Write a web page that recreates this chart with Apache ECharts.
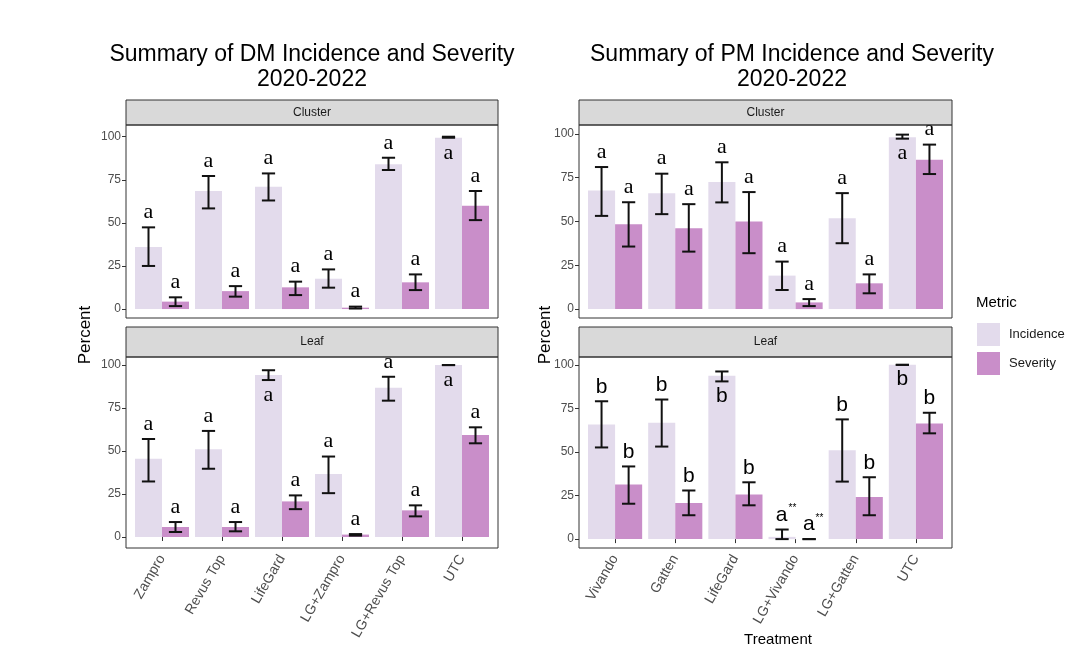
<!DOCTYPE html>
<html>
<head>
<meta charset="utf-8">
<script src="https://cdn.jsdelivr.net/npm/echarts@6/dist/echarts.min.js"></script>
<style>
  html, body { margin: 0; background: #fff; }
  #chart { width: 1074px; height: 653px; }
</style>
</head>
<body>
<div id="chart"></div>
<script>
// treatments
const dmTreatments = ['Zampro', 'Revus Top', 'LifeGard', 'LG+Zampro', 'LG+Revus Top', 'UTC'];
const pmTreatments = ['Vivando', 'Gatten', 'LifeGard', 'LG+Vivando', 'LG+Gatten', 'UTC'];

// DM - cluster
const dmClusterInc = [36, 68.5, 71, 17.6, 84, 99.4];
const dmClusterIncErr = [[25, 47.4], [58.4, 77.2], [63, 78.7], [12.4, 23], [80.7, 87.8], [99.4, 100]];
const dmClusterSev = [4.3, 10.4, 12.6, 0.8, 15.5, 60];
const dmClusterSevErr = [[1.7, 6.8], [7.2, 13.3], [8.1, 15.9], [0.3, 1.4], [11, 20.1], [51.6, 68.5]];
const dmClusterIncLetters = ['a', 'a', 'a', 'a', 'a', 'a'];
const dmClusterSevLetters = ['a', 'a', 'a', 'a', 'a', 'a'];
const dmClusterBelow = ['UTC'];

// DM - leaf
const dmLeafInc = [45.5, 51, 94.2, 36.6, 86.8, 100];
const dmLeafIncErr = [[32.3, 57], [39.7, 61.7], [91.3, 97], [25.5, 46.8], [79.3, 93.2], [100, 100]];
const dmLeafSev = [5.8, 5.8, 20.7, 1.4, 15.5, 59.4];
const dmLeafSevErr = [[2.9, 8.7], [3.3, 8.7], [16.2, 24.2], [0.8, 1.7], [12, 18.4], [54.5, 63.8]];
const dmLeafIncLetters = ['a', 'a', 'a', 'a', 'a', 'a'];
const dmLeafSevLetters = ['a', 'a', 'a', 'a', 'a', 'a'];
const dmLeafBelow = ['LifeGard', 'UTC'];

// PM - cluster
const pmClusterInc = [67.7, 66.2, 72.5, 19.1, 51.9, 98.1];
const pmClusterIncErr = [[53.2, 81.1], [54.2, 77.3], [60.9, 83.8], [10.9, 27.1], [37.6, 66.2], [97.3, 99.6]];
const pmClusterSev = [48.5, 46.2, 50, 3.8, 14.7, 85.3];
const pmClusterSevErr = [[35.7, 61], [32.8, 59.9], [31.9, 66.8], [1.7, 5.7], [9, 19.8], [77.1, 93.9]];
const pmClusterIncLetters = ['a', 'a', 'a', 'a', 'a', 'a'];
const pmClusterSevLetters = ['a', 'a', 'a', 'a', 'a', 'a'];
const pmClusterBelow = ['UTC'];

// PM - leaf
const pmLeafInc = [65.8, 66.8, 93.7, 1.3, 51, 100];
const pmLeafIncErr = [[52.6, 79.1], [53.1, 80.1], [90.5, 96.2], [0, 5.5], [33, 68.7], [100, 100]];
const pmLeafSev = [31.3, 20.7, 25.6, 0, 24.1, 66.4];
const pmLeafSevErr = [[20.3, 41.7], [13.7, 27.9], [19.4, 32.6], [0, 0], [13.7, 35.5], [60.7, 72.5]];
const pmLeafIncLetters = ['b', 'b', 'b', 'a**', 'b', 'b'];
const pmLeafSevLetters = ['b', 'b', 'b', 'a**', 'b', 'b'];
const pmLeafBelow = ['LifeGard', 'UTC'];

const yTicks = [0, 25, 50, 75, 100];

const incColor = '#e3dbec';
const sevColor = '#c98ec9';
const serif = { font: '22px "Liberation Serif", "Times New Roman", serif', size: 22, family: '"Liberation Serif", serif' };
const sans = { font: '21px "Liberation Sans", Arial, sans-serif', size: 21, family: '"Liberation Sans", Arial, sans-serif' };

// panel layout: box = facet border, grid = plotting range (ggplot discrete expansion)
const panels = [
  { cats: dmTreatments, inc: dmClusterInc, incErr: dmClusterIncErr, sev: dmClusterSev, sevErr: dmClusterSevErr,
    incL: dmClusterIncLetters, sevL: dmClusterSevLetters, below: dmClusterBelow, font: serif,
    box: [126, 125, 372, 193], strip: [126, 100, 372, 25], strip_text: 'Cluster', grid: [132, 125, 360, 193], y: [-5.2, 106.8], bottom: false },
  { cats: dmTreatments, inc: dmLeafInc, incErr: dmLeafIncErr, sev: dmLeafSev, sevErr: dmLeafSevErr,
    incL: dmLeafIncLetters, sevL: dmLeafSevLetters, below: dmLeafBelow, font: serif,
    box: [126, 357, 372, 191], strip: [126, 327, 372, 30], strip_text: 'Leaf', grid: [132, 357, 360, 191], y: [-6.4, 104.7], bottom: true },
  { cats: pmTreatments, inc: pmClusterInc, incErr: pmClusterIncErr, sev: pmClusterSev, sevErr: pmClusterSevErr,
    incL: pmClusterIncLetters, sevL: pmClusterSevLetters, below: pmClusterBelow, font: serif,
    box: [579, 125, 373, 193], strip: [579, 100, 373, 25], strip_text: 'Cluster', grid: [585, 125, 361, 193], y: [-5.1, 105.1], bottom: false },
  { cats: pmTreatments, inc: pmLeafInc, incErr: pmLeafIncErr, sev: pmLeafSev, sevErr: pmLeafSevErr,
    incL: pmLeafIncLetters, sevL: pmLeafSevLetters, below: pmLeafBelow, font: sans,
    box: [579, 357, 373, 191], strip: [579, 327, 373, 30], strip_text: 'Leaf', grid: [585, 357, 361, 191], y: [-5.1, 104.5], bottom: true }
];

const chart = echarts.init(document.getElementById('chart'));

function errRenderer(items, f) {
  return function (params, api) {
    const it = items[params.dataIndex];
    const band = api.size([1, 0])[0];
    const cx = api.coord([api.value(0), 0])[0] + (api.value(3) ? 1 : -1) * band * 0.225;
    const yLo = api.coord([api.value(0), api.value(1)])[1];
    const yHi = api.coord([api.value(0), api.value(2)])[1];
    const cw = band * 0.11;
    const st = { stroke: '#111', lineWidth: 2 };
    const children = [
      { type: 'line', shape: { x1: cx, y1: yLo, x2: cx, y2: yHi }, style: st },
      { type: 'line', shape: { x1: cx - cw, y1: yHi, x2: cx + cw, y2: yHi }, style: st },
      { type: 'line', shape: { x1: cx - cw, y1: yLo, x2: cx + cw, y2: yLo }, style: st }
    ];
    // "a**" -> letter with small raised marks
    const star = it.letter.indexOf('**') > 0;
    const txt = star ? '{n|' + it.letter.replace('**', '') + '}{s|**}' : '{n|' + it.letter + '}';
    children.push({
      type: 'text',
      x: cx + (star ? 4 : 0),
      y: it.below ? yLo + 3 : yHi - 3,
      style: {
        text: txt, fill: '#000', align: 'center', verticalAlign: it.below ? 'top' : 'bottom',
        rich: {
          n: { fontSize: f.size, fontFamily: f.family, fill: '#000', lineHeight: f.size + 2 },
          s: { fontSize: 10, fontFamily: f.family, fill: '#000', verticalAlign: 'top', lineHeight: f.size + 2, padding: [0, 0, 8, 1] }
        }
      }
    });
    return { type: 'group', children: children };
  };
}

const grids = [], xAxes = [], yAxes = [], series = [], graphics = [];

panels.forEach((p, i) => {
  grids.push({ left: p.grid[0], top: p.grid[1], width: p.grid[2], height: p.grid[3], show: false });
  xAxes.push({
    type: 'category', gridIndex: i, data: p.cats,
    axisLine: { show: false },
    axisTick: { show: p.bottom, alignWithLabel: true, length: 4, lineStyle: { color: '#333' } },
    axisLabel: { show: p.bottom, rotate: 60, fontSize: 14, color: '#4d4d4d', margin: 8, padding: [16, 0, 0, 0], fontFamily: 'Liberation Sans, Arial, sans-serif' }
  });
  yAxes.push({
    type: 'value', gridIndex: i, min: p.y[0], max: p.y[1], offset: p.grid[0] - p.box[0],
    splitLine: { show: false },
    axisLine: { show: false },
    axisTick: { show: true, length: 4, customValues: yTicks, lineStyle: { color: '#333' } },
    axisLabel: { customValues: yTicks, fontSize: 12, color: '#4d4d4d', margin: 5, fontFamily: 'Liberation Sans, Arial, sans-serif' }
  });
  series.push({
    type: 'bar', name: 'Incidence', xAxisIndex: i, yAxisIndex: i, data: p.inc,
    barWidth: '45%', barGap: '0%', itemStyle: { color: incColor }
  });
  series.push({
    type: 'bar', name: 'Severity', xAxisIndex: i, yAxisIndex: i, data: p.sev,
    barWidth: '45%', barGap: '0%', itemStyle: { color: sevColor }
  });
  const items = [];
  p.inc.forEach((v, k) => items.push({ value: [k, p.incErr[k][0], p.incErr[k][1], 0], letter: p.incL[k], below: p.below.includes(p.cats[k]) }));
  p.sev.forEach((v, k) => items.push({ value: [k, p.sevErr[k][0], p.sevErr[k][1], 1], letter: p.sevL[k], below: false }));
  series.push({
    type: 'custom', name: 'errbar', xAxisIndex: i, yAxisIndex: i, data: items, z: 10, clip: false,
    renderItem: errRenderer(items, p.font)
  });

  // facet strip + border
  graphics.push({
    type: 'rect', shape: { x: p.strip[0], y: p.strip[1], width: p.strip[2], height: p.strip[3] },
    style: { fill: '#d9d9d9', stroke: '#333', lineWidth: 1 }
  });
  graphics.push({
    type: 'text', x: p.strip[0] + p.strip[2] / 2, y: p.strip[1] + p.strip[3] / 2,
    style: { text: p.strip_text, font: '12px "Liberation Sans", Arial, sans-serif', fill: '#1a1a1a', align: 'center', verticalAlign: 'middle' }
  });
  graphics.push({
    type: 'rect', z: 100, shape: { x: p.box[0], y: p.box[1], width: p.box[2], height: p.box[3] },
    style: { fill: 'none', stroke: '#333', lineWidth: 1 }
  });
});

const titleFont = '23px "Liberation Sans", Arial, sans-serif';
graphics.push(
  { type: 'text', x: 312, y: 55, style: { text: 'Summary of DM Incidence and Severity', font: titleFont, fill: '#000', align: 'center', verticalAlign: 'middle' } },
  { type: 'text', x: 312, y: 80, style: { text: '2020-2022', font: titleFont, fill: '#000', align: 'center', verticalAlign: 'middle' } },
  { type: 'text', x: 792, y: 55, style: { text: 'Summary of PM Incidence and Severity', font: titleFont, fill: '#000', align: 'center', verticalAlign: 'middle' } },
  { type: 'text', x: 792, y: 80, style: { text: '2020-2022', font: titleFont, fill: '#000', align: 'center', verticalAlign: 'middle' } },
  { type: 'text', x: 85, y: 335, rotation: Math.PI / 2, style: { text: 'Percent', font: '17px "Liberation Sans", Arial, sans-serif', fill: '#000', align: 'center', verticalAlign: 'middle' } },
  { type: 'text', x: 545, y: 335, rotation: Math.PI / 2, style: { text: 'Percent', font: '17px "Liberation Sans", Arial, sans-serif', fill: '#000', align: 'center', verticalAlign: 'middle' } },
  { type: 'text', x: 778, y: 640, style: { text: 'Treatment', font: '15px "Liberation Sans", Arial, sans-serif', fill: '#000', align: 'center', verticalAlign: 'middle' } },
  { type: 'text', x: 976, y: 303, style: { text: 'Metric', font: '15px "Liberation Sans", Arial, sans-serif', fill: '#000', align: 'left', verticalAlign: 'middle' } }
);

chart.setOption({
  animation: false,
  grid: grids,
  xAxis: xAxes,
  yAxis: yAxes,
  legend: {
    data: ['Incidence', 'Severity'],
    orient: 'vertical', left: 972, top: 318,
    icon: 'rect', itemWidth: 23, itemHeight: 23, itemGap: 6,
    textStyle: { fontSize: 13, color: '#1a1a1a', fontFamily: 'Liberation Sans, Arial, sans-serif', padding: [0, 0, 0, 4] }
  },
  graphic: graphics,
  series: series
});
</script>
</body>
</html>
